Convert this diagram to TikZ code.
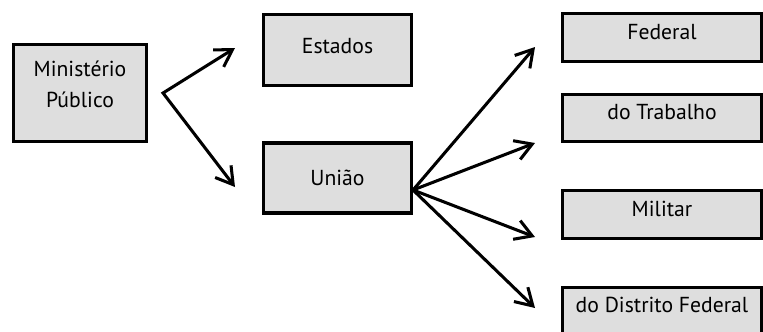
\documentclass[tikz,border=0pt]{standalone}
\usepackage{fontspec}
\setmainfont{PT Sans}
\usetikzlibrary{arrows.meta}

\begin{document}
\begin{tikzpicture}[x=0.03cm,y=-0.03cm,line width=2.6pt]
	\tikzset{caixa/.style={draw,fill=black!13,font=\fontsize{18.5}{27}\selectfont,text height=0.45cm}}
	\tikzset{ramo/.style={caixa,minimum width=5.97cm,minimum height=1.43cm,text depth=0.36cm}}
	\tikzset{seta/.style={-{Straight Barb[length=5mm,width=6mm]}}}
	\useasboundingbox (0,0) rectangle (763,331);

	% primeiro nivel
	\node[caixa,minimum width=3.99cm,minimum height=2.91cm] (mp) at (80,93) {};
	\node[font=\fontsize{18.5}{27}\selectfont,align=center] (mptexto) at ([yshift=0.26cm]mp.center) {Ministério\\Público};

	\node[caixa,minimum width=4.44cm,minimum height=2.13cm,text depth=0.24cm] (estados) at (337.5,50) {Estados};
	\node[caixa,minimum width=4.44cm,minimum height=2.1cm,text depth=0.03cm] (uniao) at (337.5,178) {União};

	% ramos da Uniao
	\node[ramo] (federal) at (662,37.5) {Federal};
	\node[ramo] (trabalho) at (662,118) {do Trabalho};
	\node[ramo] (militar) at (662,214.5) {Militar};
	\node[ramo] (distrito) at (662,311) {do Distrito Federal};

	\coordinate (mpsaida) at ([xshift=0.45cm]mp.east);
	\coordinate (paraestados) at (235,48);
	\coordinate (parauniao) at (235,187);
	\draw[{Straight Barb[length=5mm,width=6mm]}-{Straight Barb[length=5mm,width=6mm]},line join=miter] (paraestados) -- (mpsaida) -- (parauniao);

	\coordinate (uniaosaida) at ([yshift=-0.36cm]uniao.east);
	\coordinate (parafederal) at (535,47);
	\coordinate (paratrabalho) at (535,143);
	\coordinate (paramilitar) at (535,237);
	\coordinate (paradistrito) at (535,308);
	\draw[seta] (uniaosaida) -- (parafederal);
	\draw[seta] (uniaosaida) -- (paratrabalho);
	\draw[seta] (uniaosaida) -- (paramilitar);
	\draw[seta] (uniaosaida) -- (paradistrito);
\end{tikzpicture}
\end{document}
